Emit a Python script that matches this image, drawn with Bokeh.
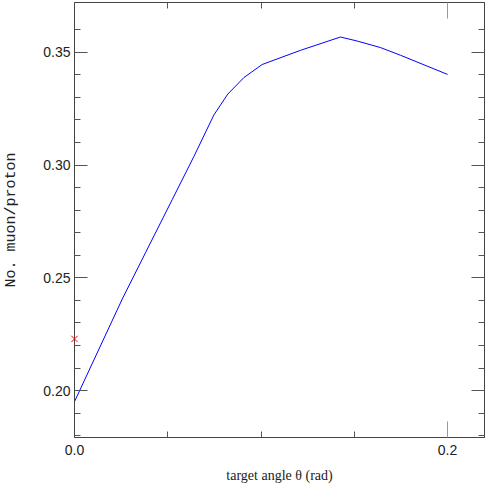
from bokeh.plotting import figure
from bokeh.models import FixedTicker, LinearAxis, Range1d, CustomJSTickFormatter
from bokeh.embed import file_html
from bokeh.resources import INLINE

# data
angle = [0.0, 0.0256, 0.0381, 0.0524, 0.0640, 0.0747, 0.0822, 0.0908, 0.1006,
         0.1212, 0.1426, 0.1516, 0.1641, 0.1748, 0.2]
muons = [0.1951, 0.2406, 0.2612, 0.2847, 0.3038, 0.3222, 0.3315, 0.3388, 0.3446,
         0.3509, 0.3568, 0.3550, 0.3521, 0.3487, 0.3402]
ref_angle = [0.0]
ref_muons = [0.2229]

x_major = [0.0, 0.2]
x_minor = [0.05, 0.1, 0.15]
y_major = [0.20, 0.25, 0.30, 0.35]
y_minor = [round(0.18 + 0.01 * i, 2) for i in range(19)]

AX = "#444444"

p = figure(width=485, height=485, output_backend="svg", toolbar_location=None,
           x_range=Range1d(0.0, 0.2198), y_range=Range1d(0.1792, 0.3721),
           min_border_left=74, min_border_right=1, min_border_top=2, min_border_bottom=46,
           x_axis_location="below", y_axis_location="left")
p.grid.visible = False
p.outline_line_color = AX
p.background_fill_color = "white"
p.border_fill_color = "white"

p.line(angle, muons, line_color="#0000ff", line_width=1)
p.scatter(ref_angle, ref_muons, marker="x", size=9, line_color="red", line_width=1,
          level="overlay")

def style(ax, xdir, labels=True):
    if xdir:
        ax.ticker = FixedTicker(ticks=x_major, minor_ticks=x_minor)
        ax.major_tick_in = 16
        ax.formatter = CustomJSTickFormatter(code="return tick.toFixed(1)")
    else:
        ax.ticker = FixedTicker(ticks=y_major, minor_ticks=y_minor)
        ax.major_tick_in = 13
        ax.formatter = CustomJSTickFormatter(code="return tick.toFixed(2)")
    ax.major_tick_out = 0
    ax.minor_tick_in = 6
    ax.minor_tick_out = 0
    ax.axis_line_color = AX
    ax.major_tick_line_color = "#555555" if not xdir else "#999999"
    ax.minor_tick_line_color = "#555555"
    ax.major_label_text_font = "Liberation Sans"
    ax.major_label_text_font_size = "14px"
    ax.major_label_text_color = "#222222"
    if not labels:
        ax.formatter = CustomJSTickFormatter(code="return ''")
        ax.major_label_standoff = 0
        ax.major_label_text_font_size = "0px"

xa = p.xaxis[0]
style(xa, True)
xa.major_label_standoff = 7
xa.axis_label = "target angle θ (rad)"
xa.axis_label_text_font = "Liberation Serif"
xa.axis_label_text_font_size = "14px"
xa.axis_label_text_font_style = "normal"
xa.axis_label_text_color = "#222222"
xa.axis_label_standoff = 10

ya = p.yaxis[0]
style(ya, False)
ya.major_label_standoff = 4
ya.axis_label = "No. muon/proton"
ya.axis_label_text_font = "Liberation Mono"
ya.axis_label_text_font_size = "15px"
ya.axis_label_text_font_style = "normal"
ya.axis_label_text_color = "#222222"
ya.axis_label_standoff = 20

top = LinearAxis()
style(top, True, labels=False)
p.add_layout(top, "above")
right = LinearAxis()
style(right, False, labels=False)
p.add_layout(right, "right")

open("out.html", "w").write(file_html(p, INLINE))
